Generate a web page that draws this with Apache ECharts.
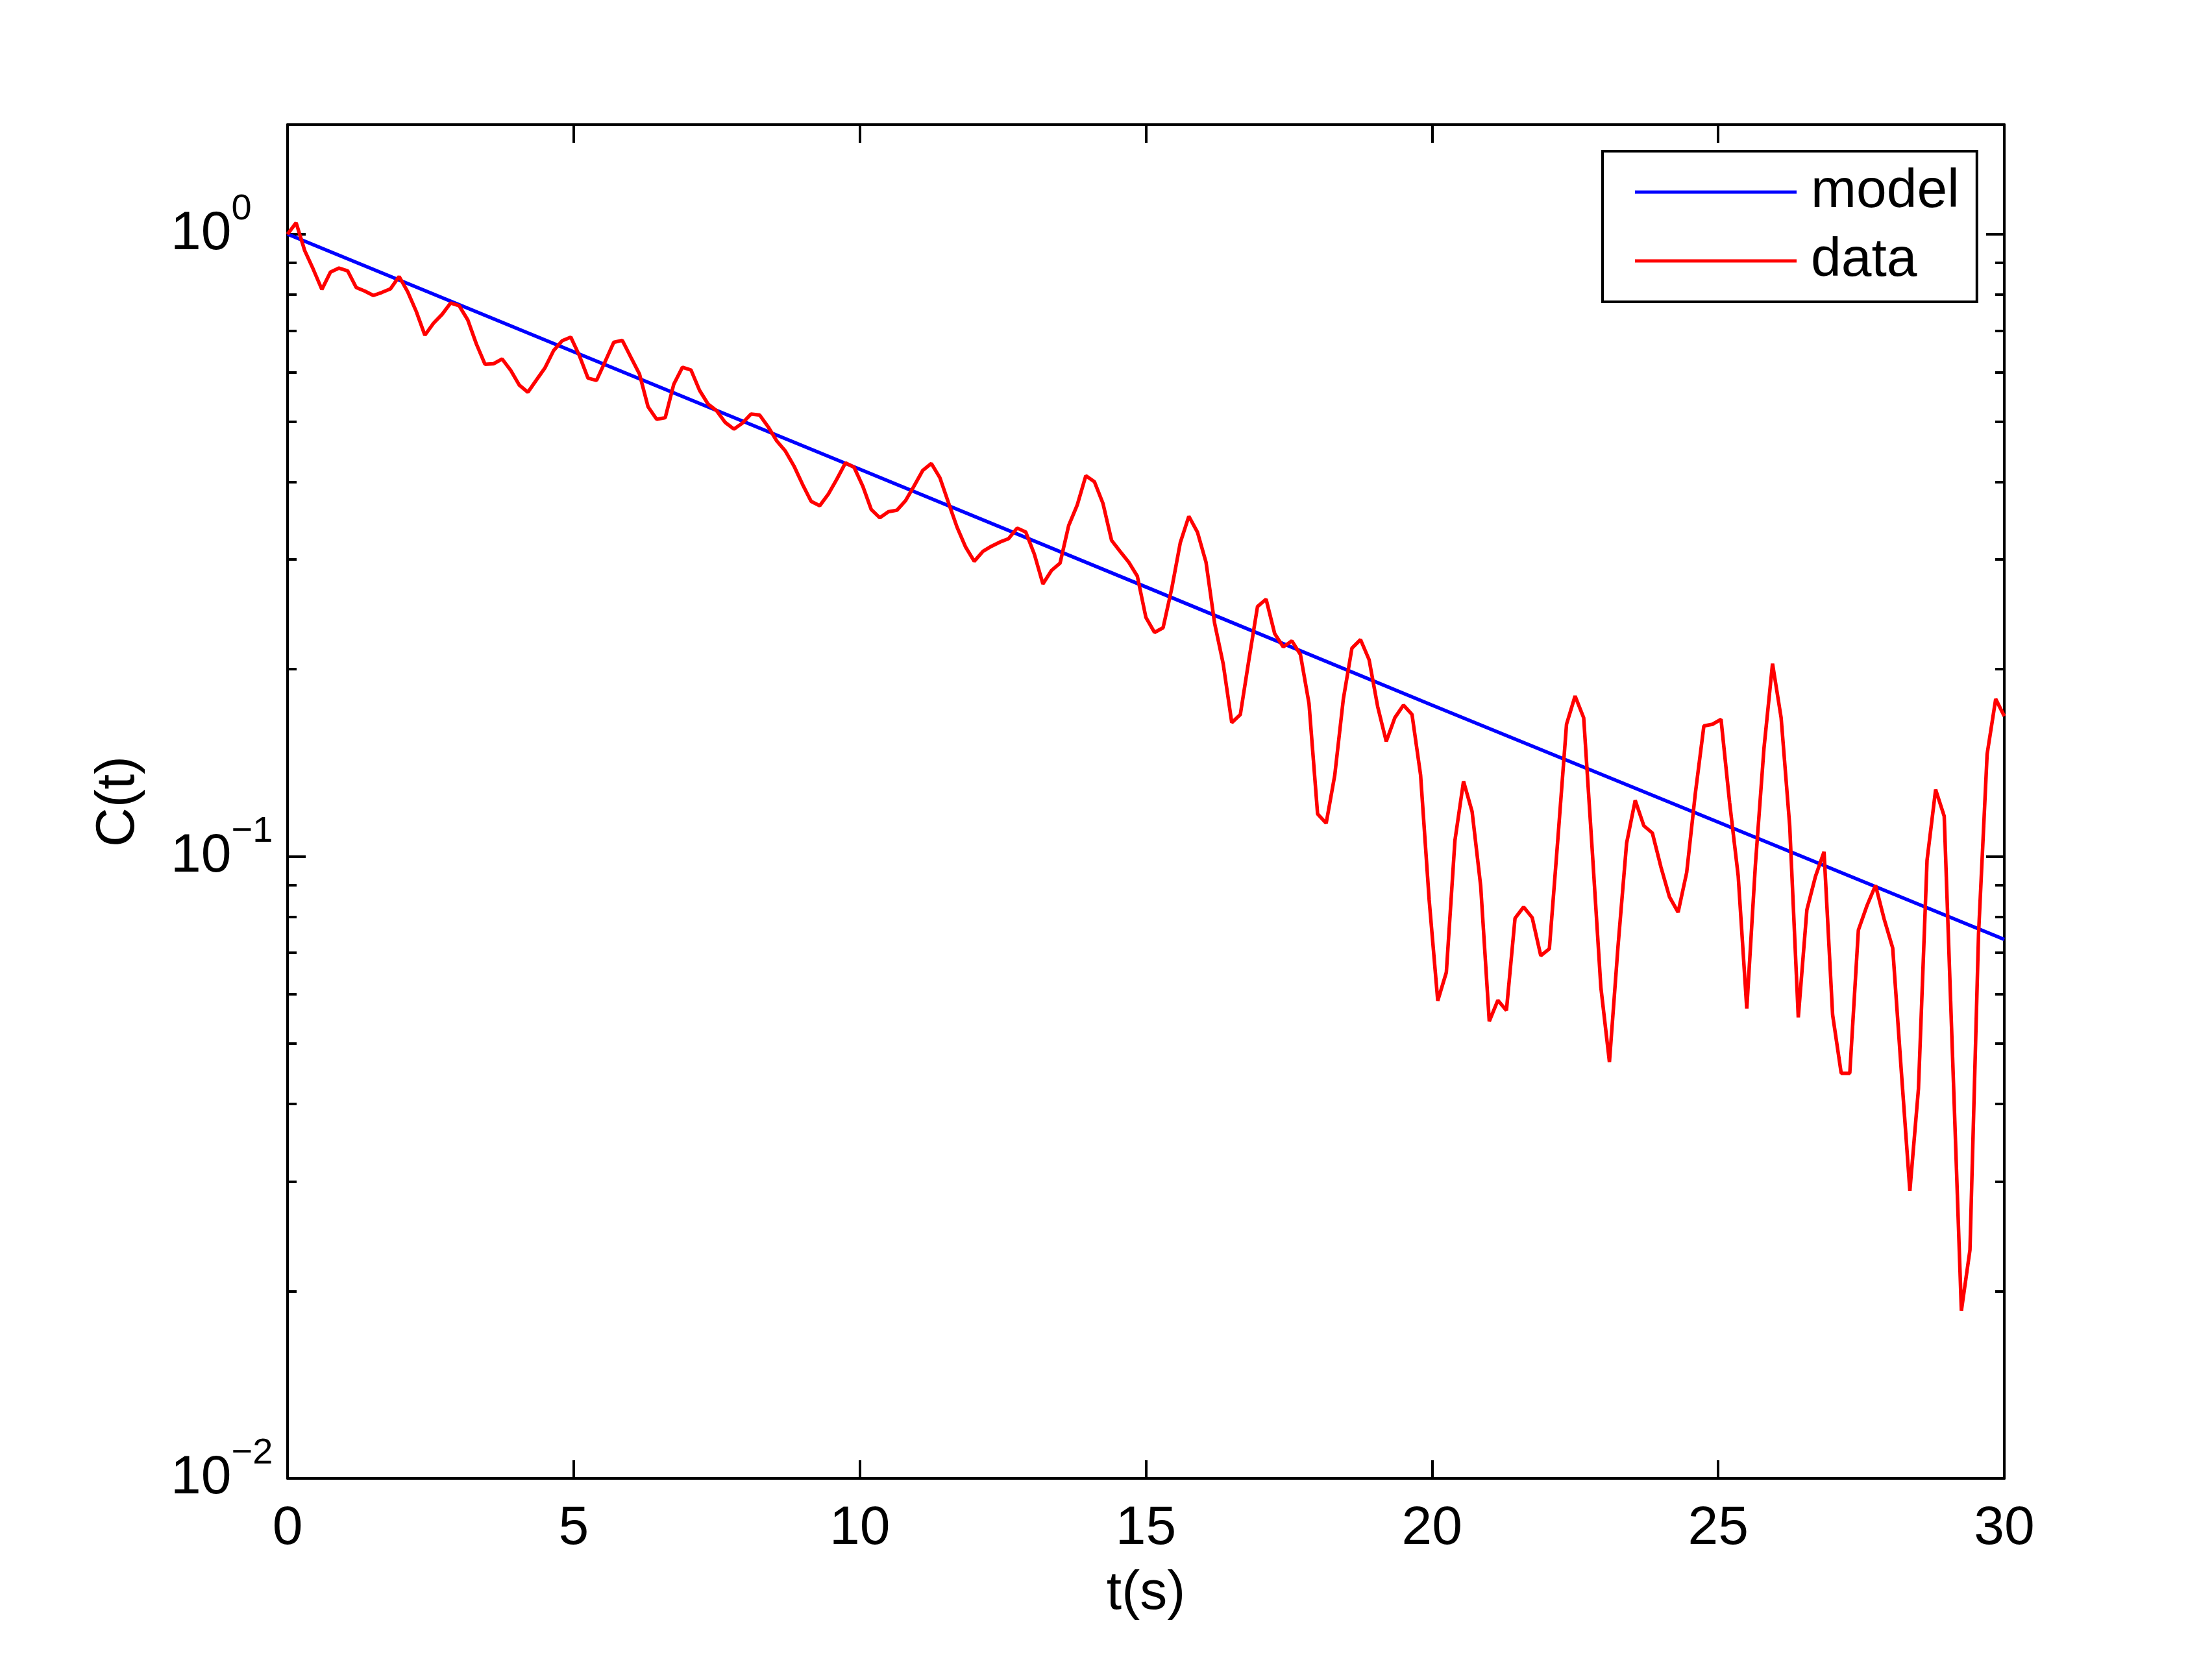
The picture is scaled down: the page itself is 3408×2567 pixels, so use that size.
<!DOCTYPE html>
<html><head><meta charset="utf-8">
<script src="https://cdn.jsdelivr.net/npm/echarts@6/dist/echarts.min.js"></script>
<style>html,body{margin:0;padding:0;background:#fff}#c{width:3408px;height:2567px}</style>
</head><body><div id="c"></div>
<script>
// sample times (s)
const times = [
0,0.15,0.3,0.45,0.6,0.75,0.9,1.05,1.2,1.35,
1.5,1.65,1.8,1.95,2.1,2.25,2.4,2.55,2.7,2.85,
3,3.15,3.3,3.45,3.6,3.75,3.9,4.05,4.2,4.35,
4.5,4.65,4.8,4.95,5.1,5.25,5.4,5.55,5.7,5.85,
6,6.15,6.3,6.45,6.6,6.75,6.9,7.05,7.2,7.35,
7.5,7.65,7.8,7.95,8.1,8.25,8.4,8.55,8.7,8.85,
9,9.15,9.3,9.45,9.6,9.75,9.9,10.05,10.2,10.35,
10.5,10.65,10.8,10.95,11.1,11.25,11.4,11.55,11.7,11.85,
12,12.15,12.3,12.45,12.6,12.75,12.9,13.05,13.2,13.35,
13.5,13.65,13.8,13.95,14.1,14.25,14.4,14.55,14.7,14.85,
15,15.15,15.3,15.45,15.6,15.75,15.9,16.05,16.2,16.35,
16.5,16.65,16.8,16.95,17.1,17.25,17.4,17.55,17.7,17.85,
18,18.15,18.3,18.45,18.6,18.75,18.9,19.05,19.2,19.35,
19.5,19.65,19.8,19.95,20.1,20.25,20.4,20.55,20.7,20.85,
21,21.15,21.3,21.45,21.6,21.75,21.9,22.05,22.2,22.35,
22.5,22.65,22.8,22.95,23.1,23.25,23.4,23.55,23.7,23.85,
24,24.15,24.3,24.45,24.6,24.75,24.9,25.05,25.2,25.35,
25.5,25.65,25.8,25.95,26.1,26.25,26.4,26.55,26.7,26.85,
27,27.15,27.3,27.45,27.6,27.75,27.9,28.05,28.2,28.35,
28.5,28.65,28.8,28.95,29.1,29.25,29.4,29.55,29.7,29.85,
30];
// measured C(t)
const measured = [
1.000,1.043,0.941,0.878,0.815,0.869,0.882,0.873,0.821,0.810,
0.797,0.806,0.817,0.855,0.808,0.751,0.688,0.719,0.743,0.775,
0.767,0.728,0.666,0.618,0.619,0.630,0.604,0.572,0.557,0.583,
0.610,0.650,0.674,0.683,0.638,0.587,0.582,0.624,0.670,0.675,
0.634,0.596,0.528,0.504,0.507,0.574,0.611,0.605,0.561,0.533,
0.520,0.498,0.486,0.497,0.514,0.512,0.490,0.465,0.448,0.424,
0.396,0.372,0.366,0.382,0.404,0.429,0.422,0.394,0.361,0.350,
0.358,0.360,0.373,0.394,0.417,0.428,0.406,0.370,0.338,0.314,
0.298,0.309,0.315,0.320,0.324,0.337,0.332,0.306,0.274,0.288,
0.296,0.340,0.367,0.409,0.400,0.369,0.322,0.309,0.297,0.282,
0.242,0.229,0.233,0.269,0.319,0.352,0.332,0.297,0.237,0.204,
0.164,0.169,0.207,0.252,0.259,0.228,0.217,0.222,0.211,0.176,
0.117,0.113,0.135,0.179,0.216,0.223,0.207,0.174,0.153,0.167,
0.175,0.169,0.135,0.085,0.0586,0.0651,0.106,0.132,0.118,0.0896,
0.0543,0.0587,0.0565,0.0795,0.0829,0.0797,0.0692,0.0710,0.107,0.163,
0.181,0.167,0.102,0.0616,0.0467,0.0717,0.105,0.123,0.112,0.109,
0.0961,0.0860,0.0813,0.0942,0.126,0.162,0.163,0.166,0.122,0.093,
0.0569,0.0967,0.149,0.204,0.167,0.112,0.0551,0.0820,0.0928,0.1017,
0.0556,0.0448,0.0448,0.0761,0.0833,0.0898,0.0793,0.0712,0.0452,0.0290,
0.0423,0.0985,0.128,0.116,0.0465,0.0186,0.0233,0.075,0.146,0.179,
0.168];
// model curve
const modelTimes = [0,5,10,15,20,25,30];
const modelValues = [1.0,0.647,0.419,0.271,0.175,0.1135,0.0735];
// axes
const xTicks = [0,5,10,15,20,25,30];
const yMajorTicks = [0.01,0.1,1];
const yMinorTicks = [0.02,0.03,0.04,0.05,0.06,0.07,0.08,0.09,0.2,0.3,0.4,0.5,0.6,0.7,0.8,0.9];
const yExponents = {'-2':'−2','-1':'−1','0':'0'};
const seriesNames = ['model','data'];

const FONT = '"Liberation Sans", Arial, Helvetica, sans-serif';
const chart = echarts.init(document.getElementById('c'), null, {renderer:'canvas'});
const line = {color:'#000', width:4};
function yAx(pos, major, extra){
  return Object.assign({
    type:'log', logBase:10, position:pos, min:0.01, max:1.5,
    axisLine:{show:major, onZero:false, lineStyle:line},
    axisTick:{show:true, inside:true, length: major?28:14, lineStyle:line,
      customValues: major ? yMajorTicks : yMinorTicks},
    axisLabel:{show:false},
    splitLine:{show:false}, minorTick:{show:false}
  }, extra||{});
}
const option = {
  animation:false,
  backgroundColor:'#fff',
  textStyle:{fontFamily:FONT, color:'#000'},
  grid:{left:443, right:320, top:192, bottom:289, containLabel:false, outerBoundsMode:'none'},
  legend:{
    data:seriesNames, orient:'vertical', left:2469, top:233,
    icon:'rect', itemWidth:249, itemHeight:5, itemGap:6,
    padding:[13,27,13,50],
    borderColor:'#000', borderWidth:4, backgroundColor:'#fff',
    textStyle:{fontSize:84, lineHeight:84, color:'#000', fontFamily:FONT, padding:[16,0,0,17]}
  },
  xAxis:[
    {type:'value', position:'bottom', min:0, max:30, interval:5,
     axisLine:{show:true, onZero:false, lineStyle:line},
     axisTick:{inside:true, length:28, lineStyle:line},
     axisLabel:{fontSize:84, color:'#000', margin:36, fontFamily:FONT, customValues:xTicks},
     splitLine:{show:false},
     name:'t(s)', nameLocation:'middle', nameGap:136,
     nameTextStyle:{fontSize:84, color:'#000', fontFamily:FONT}},
    {type:'value', position:'top', min:0, max:30, interval:5,
     axisLine:{show:true, onZero:false, lineStyle:line},
     axisTick:{inside:true, length:28, lineStyle:line},
     axisLabel:{show:false}, splitLine:{show:false}}
  ],
  yAxis:[
    yAx('left', true, {
      axisLabel:{show:true, customValues:yMajorTicks, align:'left', margin:180,
        formatter:function(v){
          const e = Math.round(Math.log10(v));
          if (Math.abs(Math.log10(v)-e) > 1e-6) return '';
          return '{a|10}{b|' + yExponents[String(e)] + '}';
        },
        rich:{
          a:{fontSize:84, lineHeight:132, color:'#000', fontFamily:FONT, verticalAlign:'middle'},
          b:{fontSize:56, lineHeight:56, color:'#000', fontFamily:FONT, verticalAlign:'top'}
        }},
      name:'C(t)', nameLocation:'middle', nameGap:218,
      nameTextStyle:{fontSize:84, color:'#000', fontFamily:FONT}
    }),
    yAx('left', false),
    yAx('right', true),
    yAx('right', false)
  ],
  series:[
    {name:seriesNames[0], type:'line', xAxisIndex:0, yAxisIndex:0,
     data:modelTimes.map((t,i)=>[t, modelValues[i]]),
     symbol:'none', lineStyle:{color:'#0000ff', width:5.5}, itemStyle:{color:'#0000ff'}},
    {name:seriesNames[1], type:'line', xAxisIndex:0, yAxisIndex:0,
     data:times.map((t,i)=>[t, measured[i]]),
     symbol:'none', lineStyle:{color:'#ff0000', width:5.5}, itemStyle:{color:'#ff0000'}}
  ]
};
chart.setOption(option);
</script></body></html>
